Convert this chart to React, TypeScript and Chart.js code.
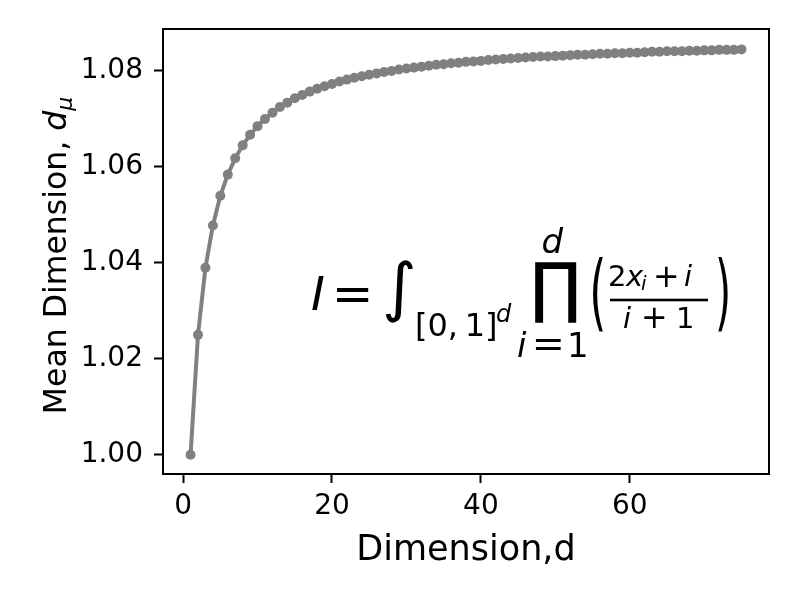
import React, { useEffect, useRef } from "react";
import { Chart, registerables } from "chart.js";

Chart.register(...registerables);

// ---- data ----
const dimensions = [
  1, 2, 3, 4, 5, 6, 7, 8, 9, 10, 11, 12, 13, 14, 15, 16, 17, 18, 19, 20,
  21, 22, 23, 24, 25, 26, 27, 28, 29, 30, 31, 32, 33, 34, 35, 36, 37, 38, 39, 40,
  41, 42, 43, 44, 45, 46, 47, 48, 49, 50, 51, 52, 53, 54, 55, 56, 57, 58, 59, 60,
  61, 62, 63, 64, 65, 66, 67, 68, 69, 70, 71, 72, 73, 74, 75,
];
const meanDimension = [
  1.0, 1.025, 1.039, 1.0478, 1.054, 1.0584, 1.0618, 1.0645, 1.0667, 1.0685,
  1.07, 1.0713, 1.0725, 1.0734, 1.0743, 1.075, 1.0757, 1.0763, 1.0768, 1.0773,
  1.0778, 1.0782, 1.0786, 1.0789, 1.0792, 1.0795, 1.0798, 1.08, 1.0803, 1.0805,
  1.0807, 1.0809, 1.0811, 1.0813, 1.0814, 1.0816, 1.0817, 1.0819, 1.082, 1.0821,
  1.0823, 1.0824, 1.0825, 1.0826, 1.0827, 1.0828, 1.0829, 1.083, 1.083, 1.0831,
  1.0832, 1.0833, 1.0834, 1.0834, 1.0835, 1.0836, 1.0836, 1.0837, 1.0837, 1.0838,
  1.0838, 1.0839, 1.084, 1.084, 1.0841, 1.0841, 1.0841, 1.0842, 1.0842, 1.0843,
  1.0843, 1.0844, 1.0844, 1.0844, 1.0845,
];
const xTicks = [0, 20, 40, 60];
const yTicks = [1.0, 1.02, 1.04, 1.06, 1.08];
const xLabel = "Dimension,d";
const yLabelMain = "Mean Dimension, ";

const FONT = '"DejaVu Sans"';

// reference frame of the plot area used for the formula layout
const REF = { left: 163, top: 29, width: 606, height: 445 };

function mapRef(ca: any, x: number, y: number): [number, number] {
  return [
    ca.left + ((x - REF.left) * ca.width) / REF.width,
    ca.top + ((y - REF.top) * ca.height) / REF.height,
  ];
}

function fitGlyph(ctx: any, ca: any, ch: string, style: string, l: number, r: number, t: number, b: number) {
  const [L, T] = mapRef(ca, l, t);
  const [R, B] = mapRef(ca, r, b);
  ctx.save();
  ctx.textAlign = "left";
  ctx.textBaseline = "alphabetic";
  ctx.font = `${style} 100px ${FONT}`;
  const m = ctx.measureText(ch);
  const h = m.actualBoundingBoxAscent + m.actualBoundingBoxDescent;
  const size = (100 * (B - T)) / h;
  ctx.font = `${style} ${size}px ${FONT}`;
  const m2 = ctx.measureText(ch);
  const inkW = m2.actualBoundingBoxLeft + m2.actualBoundingBoxRight;
  const sx = (R - L) / inkW;
  const cx = (L + R) / 2;
  const y = T + m2.actualBoundingBoxAscent;
  ctx.translate(cx, y);
  ctx.scale(sx, 1);
  ctx.fillText(ch, -(m2.actualBoundingBoxRight - m2.actualBoundingBoxLeft) / 2, 0);
  ctx.restore();
}

function inkText(ctx: any, ca: any, text: string, font: string, x: number, base: number, align: "left" | "right" | "center") {
  const [X, Y] = mapRef(ca, x, base);
  ctx.save();
  ctx.font = font;
  ctx.textAlign = "left";
  ctx.textBaseline = "alphabetic";
  const m = ctx.measureText(text);
  let px = X;
  if (align === "left") px = X + m.actualBoundingBoxLeft;
  else if (align === "right") px = X - m.actualBoundingBoxRight;
  else px = X - (m.actualBoundingBoxRight - m.actualBoundingBoxLeft) / 2;
  ctx.fillText(text, px, Y);
  ctx.restore();
}

const decorPlugin = {
  id: "decor",
  afterDraw(chart: any) {
    const ctx = chart.ctx;
    const ca = chart.chartArea;
    ctx.save();
    ctx.fillStyle = "#000";
    ctx.strokeStyle = "#000";

    // frame
    ctx.lineWidth = 2;
    ctx.strokeRect(ca.left, ca.top, ca.right - ca.left, ca.bottom - ca.top);

    // x label
    ctx.font = `35px ${FONT}`;
    ctx.textAlign = "center";
    ctx.textBaseline = "alphabetic";
    ctx.fillText(xLabel, (ca.left + ca.right) / 2, ca.bottom + 86);

    // y label (rotated)
    const mainFont = `31.5px ${FONT}`;
    const dFont = `italic 31.5px ${FONT}`;
    const subFont = `italic 22px ${FONT}`;
    ctx.font = mainFont;
    const w1 = ctx.measureText(yLabelMain).width;
    ctx.font = dFont;
    const w2 = ctx.measureText("d").width;
    ctx.font = subFont;
    const w3 = ctx.measureText("\u03bc").width;
    const total = w1 + w2 + w3;
    const cy = (ca.top + ca.bottom) / 2 + 4;
    ctx.translate(66, cy);
    ctx.rotate(-Math.PI / 2);
    ctx.textAlign = "left";
    let x0 = -total / 2;
    ctx.font = mainFont;
    ctx.fillText(yLabelMain, x0, 0);
    x0 += w1;
    ctx.font = dFont;
    ctx.fillText("d", x0, 0);
    x0 += w2;
    ctx.font = subFont;
    ctx.fillText("\u03bc", x0, 6);
    ctx.restore();

    // formula
    ctx.save();
    ctx.fillStyle = "#000";
    inkText(ctx, ca, "I", `italic 47px ${FONT}`, 312, 310, "left");
    fitGlyph(ctx, ca, "=", "", 337, 369, 288, 302);
    fitGlyph(ctx, ca, "\u222b", "", 385, 413, 260, 323);
    inkText(ctx, ca, "[0,", `32px ${FONT}`, 417, 336, "left");
    inkText(ctx, ca, "1]", `32px ${FONT}`, 495, 336, "right");
    inkText(ctx, ca, "d", `italic 24px ${FONT}`, 497, 322, "left");
    fitGlyph(ctx, ca, "\u220f", "", 535, 577, 262, 323);
    inkText(ctx, ca, "d", `italic 34px ${FONT}`, 553, 253, "center");
    inkText(ctx, ca, "i", `italic 34px ${FONT}`, 518, 357, "left");
    fitGlyph(ctx, ca, "=", "", 536, 561, 339, 350);
    inkText(ctx, ca, "1", `34px ${FONT}`, 586, 357, "right");
    fitGlyph(ctx, ca, "(", "", 593, 603, 257, 331);
    fitGlyph(ctx, ca, ")", "", 718, 728, 257, 331);
    // numerator
    inkText(ctx, ca, "2", `29px ${FONT}`, 610, 286, "left");
    inkText(ctx, ca, "x", `italic 29px ${FONT}`, 625, 286, "left");
    inkText(ctx, ca, "i", `italic 20px ${FONT}`, 641, 290, "left");
    fitGlyph(ctx, ca, "+", "", 656, 677, 266, 286);
    inkText(ctx, ca, "i", `italic 29px ${FONT}`, 685, 286, "left");
    // bar
    const [bx1, by] = mapRef(ca, 610, 300);
    const [bx2] = mapRef(ca, 708, 300);
    ctx.fillRect(bx1, by - 1.3, bx2 - bx1, 2.6);
    // denominator
    inkText(ctx, ca, "i", `italic 29px ${FONT}`, 624, 328, "left");
    fitGlyph(ctx, ca, "+", "", 644, 665, 307, 327);
    inkText(ctx, ca, "1", `29px ${FONT}`, 692, 328, "right");
    ctx.restore();
  },
};

export default function App() {
  const ref = useRef<HTMLCanvasElement | null>(null);
  useEffect(() => {
    if (!ref.current) return;
    const points = dimensions.map((d, i) => ({ x: d, y: meanDimension[i] }));
    const chart = new Chart(ref.current, {
      type: "line",
      data: {
        datasets: [
          {
            data: points,
            borderColor: "#808080",
            backgroundColor: "#808080",
            pointBackgroundColor: "#808080",
            pointBorderColor: "#808080",
            borderWidth: 4,
            pointRadius: 5,
            pointBorderWidth: 0,
            tension: 0,
            fill: false,
            clip: false as any,
          },
        ],
      },
      options: {
        animation: false,
        responsive: false,
        devicePixelRatio: 1,
        layout: { padding: { top: 29, right: 31, left: 0, bottom: 0 } },
        plugins: { legend: { display: false }, tooltip: { enabled: false }, title: { display: false } },
        scales: {
          x: {
            type: "linear",
            min: -2.7,
            max: 78.7,
            afterBuildTicks: (scale: any) => {
              scale.ticks = xTicks.map((v) => ({ value: v }));
            },
            afterFit: (scale: any) => {
              scale.height = 126;
            },
            ticks: {
              color: "#000",
              font: { family: "DejaVu Sans", size: 28 },
              padding: 7,
              maxRotation: 0,
              callback: (v: any) => String(v),
            },
            grid: {
              display: true,
              drawOnChartArea: false,
              drawTicks: true,
              tickLength: 9,
              tickWidth: 2,
              tickColor: "#000",
            },
            border: { display: false },
          },
          y: {
            type: "linear",
            min: 0.996,
            max: 1.08875,
            afterBuildTicks: (scale: any) => {
              scale.ticks = yTicks.map((v) => ({ value: v }));
            },
            afterFit: (scale: any) => {
              scale.width = 163;
            },
            ticks: {
              color: "#000",
              font: { family: "DejaVu Sans", size: 28 },
              padding: 11,
              callback: (v: any) => Number(v).toFixed(2),
            },
            grid: {
              display: true,
              drawOnChartArea: false,
              drawTicks: true,
              tickLength: 9,
              tickWidth: 2,
              tickColor: "#000",
            },
            border: { display: false },
          },
        },
      },
      plugins: [decorPlugin],
    });
    return () => chart.destroy();
  }, []);
  return (
    <div style={{ position: "fixed", left: 0, top: 0, width: 800, height: 600, background: "#fff" }}>
      <canvas ref={ref} width={800} height={600} style={{ width: 800, height: 600 }} />
    </div>
  );
}
